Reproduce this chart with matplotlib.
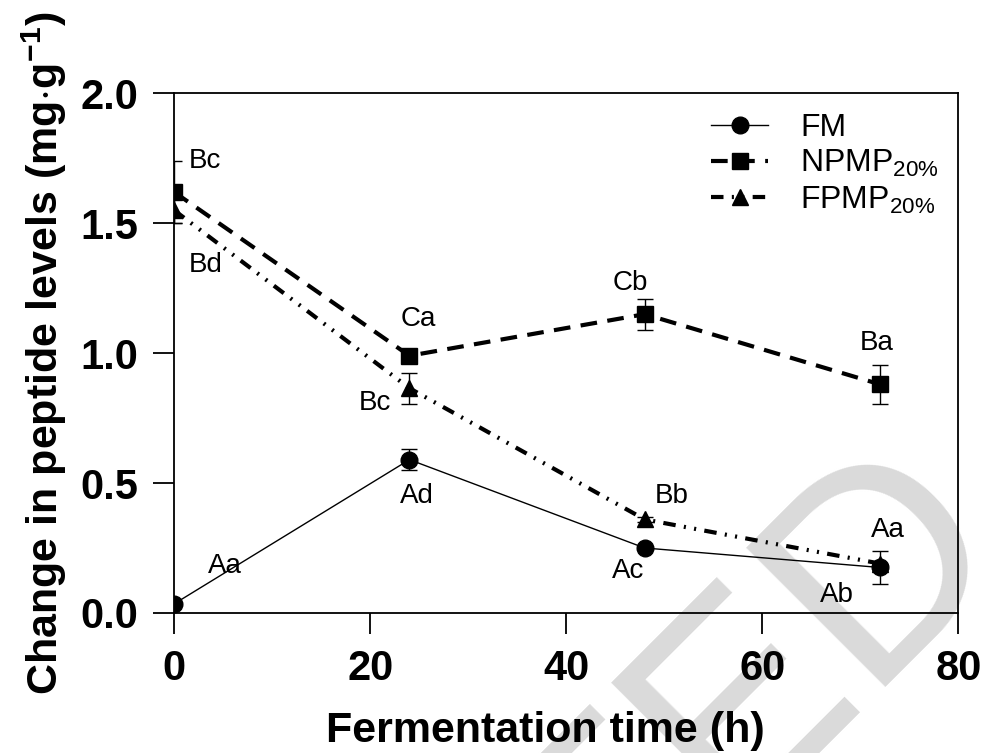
import matplotlib
matplotlib.use("Agg")
import matplotlib.pyplot as plt
from matplotlib.lines import Line2D

plt.rcParams['font.family'] = ['Liberation Sans', 'DejaVu Sans']
plt.rcParams['mathtext.fontset'] = 'custom'
plt.rcParams['mathtext.rm'] = 'Liberation Sans'
plt.rcParams['mathtext.bf'] = 'Liberation Sans:bold'

# data
hours = [0, 24, 48, 72]
fm = [0.035, 0.59, 0.25, 0.175]
fm_err = [0.0, 0.04, 0.0, 0.065]
npmp = [1.62, 0.99, 1.15, 0.88]
npmp_err = [0.12, 0.02, 0.06, 0.075]
fpmp = [1.55, 0.865, 0.36, 0.19]
fpmp_err = [0.05, 0.06, 0.01, 0.0]

# significance letters: (x, y, text)
letters = [
  (1.5, 1.74, "Bc"), (1.5, 1.34, "Bd"), (3.4, 0.18, "Aa"),
  (24.9, 1.13, "Ca"), (20.5, 0.81, "Bc"), (24.8, 0.45, "Ad"),
  (46.5, 1.27, "Cb"), (50.8, 0.45, "Bb"), (46.3, 0.16, "Ac"),
  (71.7, 1.04, "Ba"), (72.8, 0.32, "Aa"), (67.6, 0.07, "Ab"),
]

npmp_ls = (0, (4, 2.5))
fpmp_ls = (0, (3, 2, 0.5, 2, 0.5, 2))

fig = plt.figure(figsize=(9.84, 7.53), dpi=100)
ax = fig.add_axes([0.177, 0.186, 0.797, 0.690])
ax.patch.set_alpha(0)

# retraction watermark behind the chart
fig.text(1.026, 0.283, "RETRACTED", fontsize=206, color="#dadada",
         rotation=45, rotation_mode="anchor", ha="right", va="baseline", zorder=-5)

ax.errorbar(hours, fm, yerr=fm_err, color="black", linestyle="-", linewidth=1.0,
            marker="o", markersize=12, capsize=6, elinewidth=1.0, capthick=1.0)
ax.errorbar(hours, npmp, yerr=npmp_err, color="black", linestyle=npmp_ls, linewidth=3,
            marker="s", markersize=11, capsize=6, elinewidth=1.0, capthick=1.0)
ax.errorbar(hours, fpmp, yerr=fpmp_err, color="black", linestyle=fpmp_ls, linewidth=3,
            marker="^", markersize=11, capsize=6, elinewidth=1.0, capthick=1.0)

for x, y, t in letters:
  ax.text(x, y, t, fontsize=20, ha="center" if x > 5 else "left", va="center")

ax.set_xlim(0, 80)
ax.set_ylim(0, 2.0)
ax.set_xticks([0, 20, 40, 60, 80])
ax.set_yticks([0.0, 0.5, 1.0, 1.5, 2.0])
ax.set_yticklabels(["0.0", "0.5", "1.0", "1.5", "2.0"])
ax.tick_params(axis="both", direction="out", length=15, width=1.3, labelsize=30, pad=11)
for lab in ax.get_xticklabels() + ax.get_yticklabels():
  lab.set_fontweight("bold")
for sp in ax.spines.values():
  sp.set_linewidth(1.3)

ax.set_xlabel("Fermentation time (h)", fontsize=31, fontweight="bold", labelpad=16)
ax.xaxis.label.set_x(0.473)
ax.set_ylabel(r"Change in peptide levels (mg$\cdot$g$^{\mathbf{-1}}$)", fontsize=31,
              fontweight="bold", labelpad=8)

handles = [
  Line2D([], [], color="black", linestyle="-", linewidth=1.0, marker="o", markersize=12),
  Line2D([], [], color="black", linestyle=npmp_ls, linewidth=3, marker="s", markersize=11),
  Line2D([], [], color="black", linestyle=fpmp_ls, linewidth=3, marker="^", markersize=11),
]
labels = ["FM", r"NPMP$_{\mathrm{20\%}}$", r"FPMP$_{\mathrm{20\%}}$"]
ax.legend(handles, labels, loc="upper right", bbox_to_anchor=(1.012, 1.017), frameon=False,
          fontsize=23, handlelength=1.8, handletextpad=1.0, labelspacing=0.15)

fig.savefig("out.png", dpi=100)
